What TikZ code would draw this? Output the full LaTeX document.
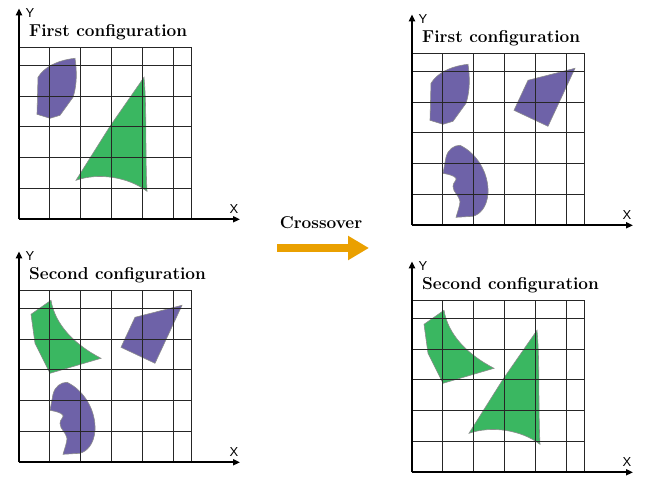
\documentclass[tikz,border=0pt]{standalone}
\usepackage{fontspec}
\newfontfamily\axisfont{Liberation Sans}
\usetikzlibrary{arrows.meta}

\definecolor{violetshape}{RGB}{110,98,168}
\definecolor{greenshape}{RGB}{58,183,97}
\definecolor{crossorange}{RGB}{234,160,0}

\tikzset{
    patch/.style={line width=0.6pt, draw=black!45},
    pics/blob/.style={code={
        \filldraw[patch, fill=violetshape] (56,161) .. controls (38,159) and (25,152) .. (19,142)
            -- (18,105) -- (31,101) -- (41,104) -- (54,122)
            .. controls (58,134) and (58,148) .. (56,161) -- cycle;
    }},
    pics/sail/.style={code={
        \filldraw[patch, fill=greenshape] (125,142) -- (91,93) -- (57,39)
            .. controls (80,47) and (110,42) .. (128,28)
            .. controls (126,70) and (128,110) .. (125,142) -- cycle;
    }},
    pics/quad/.style={code={
        \filldraw[patch, fill=violetshape] (163,157) -- (116,145) -- (102,115) -- (136,99) -- cycle;
    }},
    pics/kidney/.style={code={
        \filldraw[patch, fill=violetshape] (31,52) -- (34,68)
            .. controls (36,76) and (42,80) .. (48,80)
            .. controls (65,72) and (77,52) .. (76,32)
            .. controls (75,18) and (68,11) .. (61,9) -- (44,8)
            .. controls (46,15) and (48,20) .. (48,24)
            .. controls (47,30) and (41,33) .. (41,39)
            .. controls (41,43) and (45,45) .. (44,47)
            .. controls (42,50) and (36,51) .. (31,52) -- cycle;
    }},
    pics/wedge/.style={code={
        \filldraw[patch, fill=greenshape] (32,162) .. controls (36,138) and (55,118) .. (82,104)
            -- (31,89) -- (16,119) -- (12,148) -- cycle;
    }},
}

% one panel: grid, axes and title; shapes go in #4
\newcommand{\confpanel}[4]{
    \begin{scope}[shift={(#1)}]
        #4
        \draw[gridline] (0,0) grid[step=30.8pt] (172,172);
        \draw[gridline] (0,0) rectangle (172,172);
        \coordinate (#2-o) at (0,0);
        \coordinate (#2-x) at (221,0);
        \coordinate (#2-y) at (0,211);
        \draw[axisline] (#2-o) -- (#2-x);
        \draw[axisline] (#2-o) -- (#2-y);
        \node[axislabel] (#2-xl) at (215,10) {X};
        \node[axislabel] (#2-yl) at (11,206) {Y};
        \node[conftitle, anchor=base west] (#2-t) at (10,182.5) {#3};
    \end{scope}
}

\begin{document}
\begin{tikzpicture}[
        x=1pt, y=1pt,
        gridline/.style={line width=1pt, black!85},
        axisline/.style={line width=1.8pt, -{Triangle[length=7pt, width=6pt]}},
        axislabel/.style={inner sep=0pt, font=\axisfont\fontsize{13}{13}\selectfont},
        conftitle/.style={inner sep=0pt, font=\bfseries\fontsize{17.2}{17.2}\selectfont},
        bigarrow/.style={line width=8pt, crossorange, -{Triangle[length=21pt, width=23pt]}},
    ]
    \useasboundingbox (0,0) rectangle (649,477);

    \confpanel{19,257.7}{one}{First configuration}{\pic{blob}; \pic{sail};}
    \confpanel{19,14.7}{two}{Second configuration}{\pic{wedge}; \pic{quad}; \pic{kidney};}
    \confpanel{412,251.7}{three}{First configuration}{\pic{blob}; \pic{quad}; \pic{kidney};}
    \confpanel{412,4.7}{four}{Second configuration}{\pic{wedge}; \pic{sail};}

    % crossover
    \node[conftitle, anchor=base] (cross) at (321,248.7) {Crossover};
    \coordinate (from) at (277,229);
    \coordinate (to) at (369,229);
    \draw[bigarrow] (from) -- (to);
\end{tikzpicture}
\end{document}
